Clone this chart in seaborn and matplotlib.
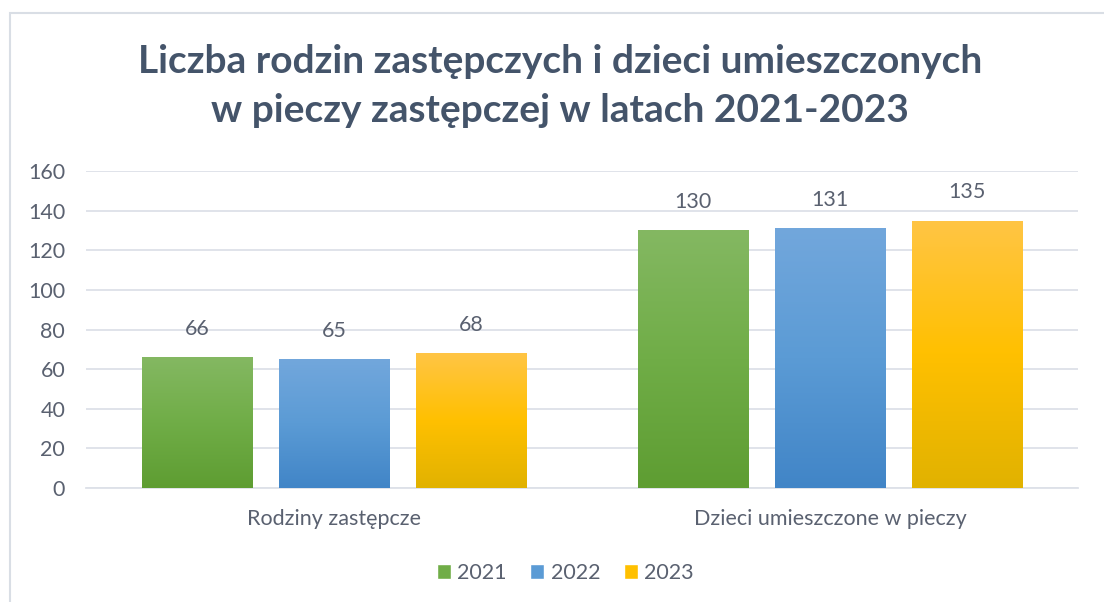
import numpy as np
import pandas as pd
import matplotlib
matplotlib.use("Agg")
import matplotlib.pyplot as plt
import seaborn as sns
from matplotlib.colors import LinearSegmentedColormap
from matplotlib.patches import Rectangle

categories = ["Rodziny zastępcze", "Dzieci umieszczone w pieczy"]
years = ["2021", "2022", "2023"]
values_2021 = [66, 130]
values_2022 = [65, 131]
values_2023 = [68, 135]
title = "Liczba rodzin zastępczych i dzieci umieszczonych\nw pieczy zastępczej w latach 2021-2023"

base_colors = ["#70AD47", "#5B9BD5", "#FFC000"]
grad_colors = [("#84B862", "#70AD47", "#5E9D32"),
               ("#72A7DC", "#5B9BD5", "#4185C7"),
               ("#FFC545", "#FFC000", "#E1B200")]

df = pd.DataFrame({
    "cat": categories * 3,
    "year": [y for y in years for _ in categories],
    "value": values_2021 + values_2022 + values_2023,
})

sns.set_theme(style="white")
plt.rcParams["font.family"] = ["Lato", "DejaVu Sans"]

text_col = "#5A6170"
grid_col = "#DDE1E8"

fig = plt.figure(figsize=(11.04, 6.02), dpi=100)
ax = fig.add_axes([86/1104, 1-488/602, (1078-86)/1104, (488-171)/602])

sns.barplot(data=df, x="cat", y="value", hue="year", order=categories,
            hue_order=years, palette=base_colors, width=0.829, gap=0.197,
            ax=ax, saturation=1, legend=True, zorder=3)

ax.set_ylim(0, 160)
ax.set_xlim(-0.5, 1.5)
ax.set_yticks(np.arange(0, 161, 20))
ax.yaxis.grid(True, color=grid_col, linewidth=1.3, zorder=0)
ax.set_axisbelow(True)
for s in ["top", "right", "left"]:
    ax.spines[s].set_visible(False)
ax.spines["bottom"].set_color(grid_col)
ax.spines["bottom"].set_linewidth(1.3)
ax.tick_params(axis="both", length=0, colors=text_col, labelsize=15.5)
ax.tick_params(axis="y", pad=15)
ax.tick_params(axis="x", pad=15)
ax.set_xlabel("")
ax.set_ylabel("")

# gradients
for ci, cont in enumerate(ax.containers):
    c1, c2, c3 = grad_colors[ci]
    cmap = LinearSegmentedColormap.from_list("g%d" % ci, [c3, c2, c1])
    grad = np.linspace(0, 1, 256).reshape(-1, 1)
    for p in cont.patches:
        x0, w, h = p.get_x(), p.get_width(), p.get_height()
        p.set_edgecolor("none")
        im = ax.imshow(grad, cmap=cmap, origin="lower", aspect="auto",
                       extent=[x0, x0 + w, 0, h], zorder=3.5)
        im.set_clip_path(p)
    ax.bar_label(cont, padding=13, color=text_col, fontsize=15.5)

ax.set_ylim(0, 160)
ax.set_xlim(-0.5, 1.5)

handles, labels = ax.get_legend_handles_labels()
ax.legend_.remove()
fig.legend(handles, labels, loc="center", bbox_to_anchor=(0.512, 1-573/602),
           ncol=3, frameon=False, fontsize=15.5, handlelength=0.65,
           handleheight=0.65, handletextpad=0.3, columnspacing=1.1,
           labelcolor=text_col)

fig.text(0.507, 1-86/602, title, ha="center", va="center", fontsize=28,
         fontweight="bold", color="#44546A", linespacing=1.48)

fig.patches.append(Rectangle((10/1104, -0.1), 1.2, 1-13/602+0.1,
                             transform=fig.transFigure, fill=False,
                             edgecolor="#D9DEE5", linewidth=1.5))

fig.savefig("out.png", dpi=100, facecolor="white")
